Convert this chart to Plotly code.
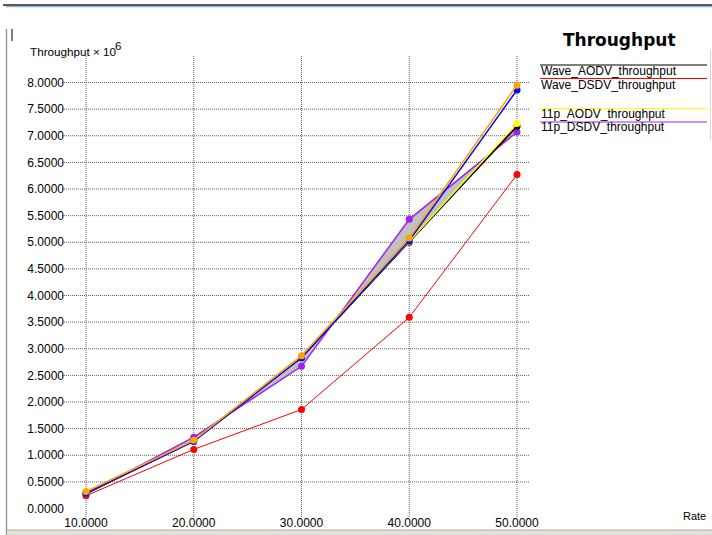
import plotly.graph_objects as go

# ---- data ----
rate = [10, 20, 30, 40, 50]
wave_aodv = [0.28, 1.27, 2.84, 5.00, 7.18]      # black
wave_dsdv = [0.24, 1.11, 1.86, 3.59, 6.27]      # red
p11_aodv = [0.29, 1.27, 2.85, 5.02, 7.23]       # yellow
p11_dsdv = [0.27, 1.34, 2.67, 5.43, 7.07]       # purple
series_blue = [0.29, 1.26, 2.83, 5.03, 7.86]    # blue (unlabelled)
series_orange = [0.32, 1.28, 2.87, 5.08, 7.95]  # orange (unlabelled)

y_ticks = [i * 0.5 for i in range(17)]
x_ticks = [10, 20, 30, 40, 50]
legend_names = ["Wave_AODV_throughput", "Wave_DSDV_throughput",
                "11p_AODV_throughput", "11p_DSDV_throughput"]
legend_colors = ["#000000", "#ff0000", "#ffff00", "#a020f0"]

W, H = 712, 535
FONT = "Liberation Sans, Arial, sans-serif"

def px(x):
    return x / W

def py(y):
    return 1 - y / H

# plot area in pixels
X0, X1 = 62, 530
Y0, Y1 = 56, 517
xppu = (517 - 86) / 40.0
yppu = (508.5 - 82.5) / 8.0
xr = [10 - (86 - X0) / xppu, 50 + (X1 - 517) / xppu]
yr = [-(Y1 - 508.5) / yppu, 8 + (82.5 - Y0) / yppu]

fig = go.Figure()

# red
fig.add_trace(go.Scatter(x=rate, y=wave_dsdv, mode="lines+markers",
                         line=dict(color="#ff0000", width=1),
                         marker=dict(color="#ff0000", size=7), showlegend=False))
# black base for fill
fig.add_trace(go.Scatter(x=rate, y=wave_aodv, mode="lines",
                         line=dict(color="#000000", width=1.5), showlegend=False))
# purple with gray fill to black
fig.add_trace(go.Scatter(x=rate, y=p11_dsdv, mode="lines+markers", fill="tonexty",
                         fillcolor="#c0c0c0",
                         line=dict(color="#a020f0", width=1.5),
                         marker=dict(color="#a020f0", size=7), showlegend=False))
# black on top
fig.add_trace(go.Scatter(x=rate, y=wave_aodv, mode="lines+markers",
                         line=dict(color="#000000", width=1.5),
                         marker=dict(color="#000000", size=7), showlegend=False))
# yellow
fig.add_trace(go.Scatter(x=rate, y=p11_aodv, mode="lines+markers",
                         line=dict(color="#ffff00", width=1.5),
                         marker=dict(color="#ffff00", size=7), showlegend=False))
# blue
fig.add_trace(go.Scatter(x=rate, y=series_blue, mode="lines+markers",
                         line=dict(color="#0000ff", width=1.5),
                         marker=dict(color="#0000ff", size=7), showlegend=False))
# orange
fig.add_trace(go.Scatter(x=rate, y=series_orange, mode="lines+markers",
                         line=dict(color="#ffa500", width=1.5),
                         marker=dict(color="#ffa500", size=7), showlegend=False))

shapes = []
# grid lines
for v in y_ticks:
    if v == 0:
        continue
    shapes.append(dict(type="line", xref="x", yref="y", x0=xr[0], x1=xr[1], y0=v, y1=v,
                       line=dict(color="#606060", width=1, dash="1px,1px"), layer="below"))
for v in x_ticks:
    shapes.append(dict(type="line", xref="x", yref="y", x0=v, x1=v, y0=yr[0], y1=yr[1],
                       line=dict(color="#606060", width=1, dash="1px,1px"), layer="below"))

# window decorations
shapes.append(dict(type="line", xref="paper", yref="paper", x0=px(3), x1=1, y0=py(5), y1=py(5),
                   line=dict(color="#202020", width=1.5)))
shapes.append(dict(type="line", xref="paper", yref="paper", x0=px(6), x1=1, y0=py(6.6), y1=py(6.6),
                   line=dict(color="#8ab4e0", width=1.2)))
shapes.append(dict(type="line", xref="paper", yref="paper", x0=px(6.5), x1=px(6.5), y0=py(29), y1=0,
                   line=dict(color="#9a9a9a", width=1.5)))
shapes.append(dict(type="line", xref="paper", yref="paper", x0=px(12), x1=px(12), y0=py(29), y1=py(41),
                   line=dict(color="#000000", width=1)))
shapes.append(dict(type="rect", xref="paper", yref="paper", x0=px(7), x1=1, y0=0, y1=py(530),
                   fillcolor="#e4e1d9", line=dict(width=0)))
shapes.append(dict(type="line", xref="paper", yref="paper", x0=px(7), x1=1, y0=py(530), y1=py(530),
                   line=dict(color="#a8a8a8", width=1)))
shapes.append(dict(type="line", xref="paper", yref="paper", x0=px(710.5), x1=px(710.5), y0=py(50), y1=py(140),
                   line=dict(color="#d8d8d8", width=1)))

annotations = []
# legend
legend_line_y = [65, 78.5, 108.5, 122]
legend_text_y = [70.5, 84.5, 113.5, 127.5]
for name, col, ly, ty in zip(legend_names, legend_colors, legend_line_y, legend_text_y):
    shapes.append(dict(type="line", xref="paper", yref="paper", x0=px(540), x1=px(707),
                       y0=py(ly), y1=py(ly), line=dict(color=col, width=1.2)))
    annotations.append(dict(x=px(539), y=py(ty), xref="paper", yref="paper", text=name,
                            showarrow=False, xanchor="left", yanchor="middle",
                            font=dict(family=FONT, size=12, color="#000000")))
annotations.append(dict(x=px(619), y=py(40), xref="paper", yref="paper", text="Throughput",
                        showarrow=False, xanchor="center", yanchor="middle",
                        font=dict(family="DejaVu Sans", size=17, color="#000000", weight="bold")))
# axis titles
annotations.append(dict(x=px(28), y=py(51), xref="paper", yref="paper", text="Throughput × 10",
                        showarrow=False, xanchor="left", yanchor="middle",
                        font=dict(family=FONT, size=11.7, color="#000000")))
annotations.append(dict(x=px(113.5), y=py(46), xref="paper", yref="paper", text="6",
                        showarrow=False, xanchor="left", yanchor="middle",
                        font=dict(family=FONT, size=11.5, color="#000000")))
annotations.append(dict(x=px(708), y=py(516), xref="paper", yref="paper", text="Rate",
                        showarrow=False, xanchor="right", yanchor="middle",
                        font=dict(family=FONT, size=11, color="#000000")))

fig.update_layout(
    width=W, height=H, margin=dict(l=0, r=0, t=0, b=0, autoexpand=False), autosize=False,
    paper_bgcolor="white", plot_bgcolor="white",
    shapes=shapes, annotations=annotations, showlegend=False,
    xaxis=dict(domain=[px(X0), px(X1)], range=xr, showgrid=False, zeroline=False,
               showline=False, tickvals=x_ticks, ticktext=["%.4f" % v for v in x_ticks],
               ticks="", ticklabelstandoff=-3,
               tickfont=dict(family=FONT, size=12, color="#000000"), fixedrange=True),
    yaxis=dict(domain=[py(Y1), py(Y0)], range=yr, showgrid=False, zeroline=False,
               showline=False, tickvals=y_ticks, ticktext=["%.4f" % v for v in y_ticks],
               ticks="", ticklabelstandoff=-3,
               tickfont=dict(family=FONT, size=12, color="#000000"), fixedrange=True),
)

fig.write_html("out.html", config={"responsive": False},
               post_script="document.documentElement.style.overflow='hidden';document.body.style.overflow='hidden';document.body.style.margin='0';")
